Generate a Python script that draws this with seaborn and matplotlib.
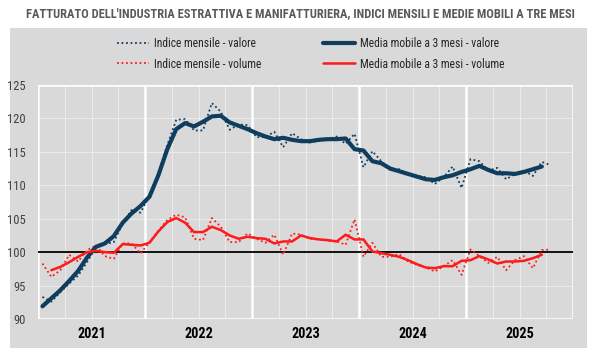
import numpy as np
import pandas as pd
import matplotlib
matplotlib.use("Agg")
import matplotlib.pyplot as plt
from matplotlib import font_manager
from matplotlib.patches import Rectangle
from matplotlib.lines import Line2D
import seaborn as sns

# ---------------- data ----------------
years = ["2021", "2022", "2023", "2024", "2025"]

valore_mensile = [93.3, 92.6, 94.0, 95.3, 96.5, 98.5, 100.8, 101.2, 101.5, 104.3, 106.3, 105.9,
                  108.5, 111.8, 116.0, 119.8, 119.9, 118.2, 118.2, 122.3, 121.0, 118.3, 119.1, 119.0,
                  117.2, 117.2, 118.0, 115.7, 117.8, 116.9, 116.4, 116.7, 116.9, 117.3, 116.2, 117.7,
                  112.7, 115.1, 113.6, 112.3, 112.4, 111.7, 111.4, 111.2, 110.2, 111.2, 112.8, 109.6,
                  113.9, 113.6, 112.2, 112.6, 110.9, 111.7, 112.2, 111.4, 113.5, 113.0]

valore_mm3 = [91.9, 93.1, 94.3, 95.7, 97.2, 99.2, 100.8, 101.3, 102.4, 104.4, 105.8, 106.9,
              108.3, 111.5, 115.4, 118.4, 119.3, 118.8, 119.5, 120.3, 120.4, 119.4, 118.9, 118.4,
              117.8, 117.3, 116.9, 117.1, 116.8, 116.6, 116.6, 116.8, 116.9, 116.9, 117.0, 115.4,
              115.2, 113.6, 113.3, 112.5, 112.1, 111.7, 111.3, 110.9, 110.8, 111.2, 111.5, 112.0,
              112.4, 112.9, 112.3, 111.8, 111.8, 111.7, 112.0, 112.4, 112.8, np.nan]

volume_mensile = [98.3, 96.3, 97.3, 99.6, 98.6, 100.3, 101.0, 99.4, 99.0, 101.3, 101.3, 99.8,
                  101.5, 103.2, 104.8, 105.6, 105.2, 102.0, 101.8, 105.1, 103.8, 101.5, 101.5, 102.8,
                  102.0, 101.4, 102.6, 99.6, 102.8, 102.6, 102.0, 101.9, 101.7, 101.6, 101.1, 104.9,
                  99.3, 101.4, 99.3, 99.3, 99.7, 98.6, 98.1, 97.7, 97.1, 97.9, 98.8, 96.6,
                  100.4, 99.4, 98.4, 99.3, 97.3, 98.8, 99.4, 97.6, 100.3, 100.4]

volume_mm3 = [np.nan, 97.3, 97.8, 98.5, 99.3, 100.0, 100.2, 100.0, 99.9, 101.2, 101.1, 101.0,
              101.4, 103.1, 104.5, 105.1, 104.4, 103.0, 103.0, 103.8, 103.3, 102.5, 102.0, 102.3,
              102.1, 102.0, 101.3, 101.6, 101.6, 102.5, 102.1, 101.9, 101.8, 101.6, 102.6, 101.9,
              101.9, 100.1, 99.85, 99.6, 99.3, 98.8, 98.2, 97.7, 97.6, 97.9, 97.9, 98.7,
              98.8, 99.4, 98.9, 98.3, 98.6, 98.6, 98.7, 99.1, 99.6, np.nan]

labels = ["Indice mensile - valore", "Indice mensile - volume",
          "Media mobile a 3 mesi - valore", "Media mobile a 3 mesi - volume"]

n = len(valore_mensile)
month_pos = np.arange(n) + 0.5  # month centres, 0 = start of 2021

df = pd.DataFrame({
    "x": month_pos,
    "vm": valore_mensile, "va": valore_mm3,
    "om": volume_mensile, "oa": volume_mm3,
})

# ---------------- style ----------------
BLUE = "#0e3d5e"
RED = "#ff1a1a"
PANEL = "#d9d9d9"

sns.set_style("white")

# pick a narrow font if one exists, else Liberation Sans
names = {f.name for f in font_manager.fontManager.ttflist}
narrow = None
for cand in ["Liberation Sans Narrow", "Arial Narrow", "Roboto Condensed",
             "Open Sans Condensed", "Noto Sans Condensed"]:
    if cand in names:
        narrow = cand
        break
if narrow:
    plt.rcParams["font.family"] = [narrow, "DejaVu Sans"]
    k = 1.2
else:
    plt.rcParams["font.family"] = ["Liberation Sans", "DejaVu Sans"]
    k = 1.0

fig = plt.figure(figsize=(6, 3.6), dpi=100)
W, H = 600, 360

fig.patches.append(Rectangle((10 / W, 1 - 348 / H), 577 / W, 320 / H,
                             transform=fig.transFigure, facecolor=PANEL,
                             edgecolor="none", zorder=-5))

fig.text(0.5, 1 - 14 / H,
         "FATTURATO DELL'INDUSTRIA ESTRATTIVA E MANIFATTURIERA, INDICI MENSILI E MEDIE MOBILI A TRE MESI",
         ha="center", va="center", fontsize=7.4 * k, fontweight="bold", color="#595959")

ax = fig.add_axes([38 / W, 1 - 319 / H, (573 - 38) / W, (319 - 85) / H])
ax.set_zorder(2)
ax.set_facecolor(PANEL)

# grid
for yv in range(90, 126, 5):
    ax.axhline(yv, color="#ebebeb", lw=0.8, zorder=1)
for q in range(0, 61, 3):
    if q % 12:
        ax.axvline(q, color="#ebebeb", lw=0.8, zorder=1)
for yb in range(0, 61, 12):
    ax.axvline(yb, color="white", lw=1.8, zorder=1.5)
ax.axhline(125, color="white", lw=1.8, zorder=1.5)
ax.axhline(90, color="white", lw=1.8, zorder=1.5)
ax.axhline(100, color="black", lw=1.3, zorder=2)

DOT = (0, (1, 1.5))
sns.lineplot(data=df, x="x", y="vm", ax=ax, color=BLUE, lw=1.3, linestyle=DOT, zorder=3)
sns.lineplot(data=df, x="x", y="om", ax=ax, color=RED, lw=1.3, linestyle=DOT, zorder=3)
sns.lineplot(data=df, x="x", y="va", ax=ax, color=BLUE, lw=3.0, zorder=4)
sns.lineplot(data=df, x="x", y="oa", ax=ax, color=RED, lw=1.8, zorder=4)

ax.set_xlim(0, 60)
ax.set_ylim(90, 125)
ax.set_xlabel("")
ax.set_ylabel("")
for s in ax.spines.values():
    s.set_visible(False)

ax.set_yticks(range(90, 126, 5))
ax.set_yticklabels([str(v) for v in range(90, 126, 5)], fontsize=7.5 * k, color="#404040")
ax.set_xticks([6 + 12 * k_ for k_ in range(len(years))])
ax.set_xticklabels(years, fontsize=8.5 * k, fontweight="bold", color="black")
ax.tick_params(axis="both", length=0)
ax.tick_params(axis="y", pad=9)
ax.tick_params(axis="x", pad=6)

handles = [
    Line2D([], [], color=BLUE, lw=1.3, linestyle=DOT),
    Line2D([], [], color=RED, lw=1.3, linestyle=DOT),
    Line2D([], [], color=BLUE, lw=3.0),
    Line2D([], [], color=RED, lw=1.8),
]
fs_leg = 7.0 * k
unit = fs_leg * 100 / 72.0
spots = [(117, 43.5), (117, 64), (323, 43.5), (323, 64)]
for h, lab, (x0, y0) in zip(handles, labels, spots):
    fig.legend([h], [lab], loc="center left", bbox_to_anchor=(x0 / W, 1 - y0 / H),
               frameon=False, fontsize=fs_leg, handlelength=32 / unit,
               handletextpad=5 / unit, borderpad=0, borderaxespad=0,
               labelcolor="#262626")

fig.savefig("out.png", dpi=100, facecolor="white")
